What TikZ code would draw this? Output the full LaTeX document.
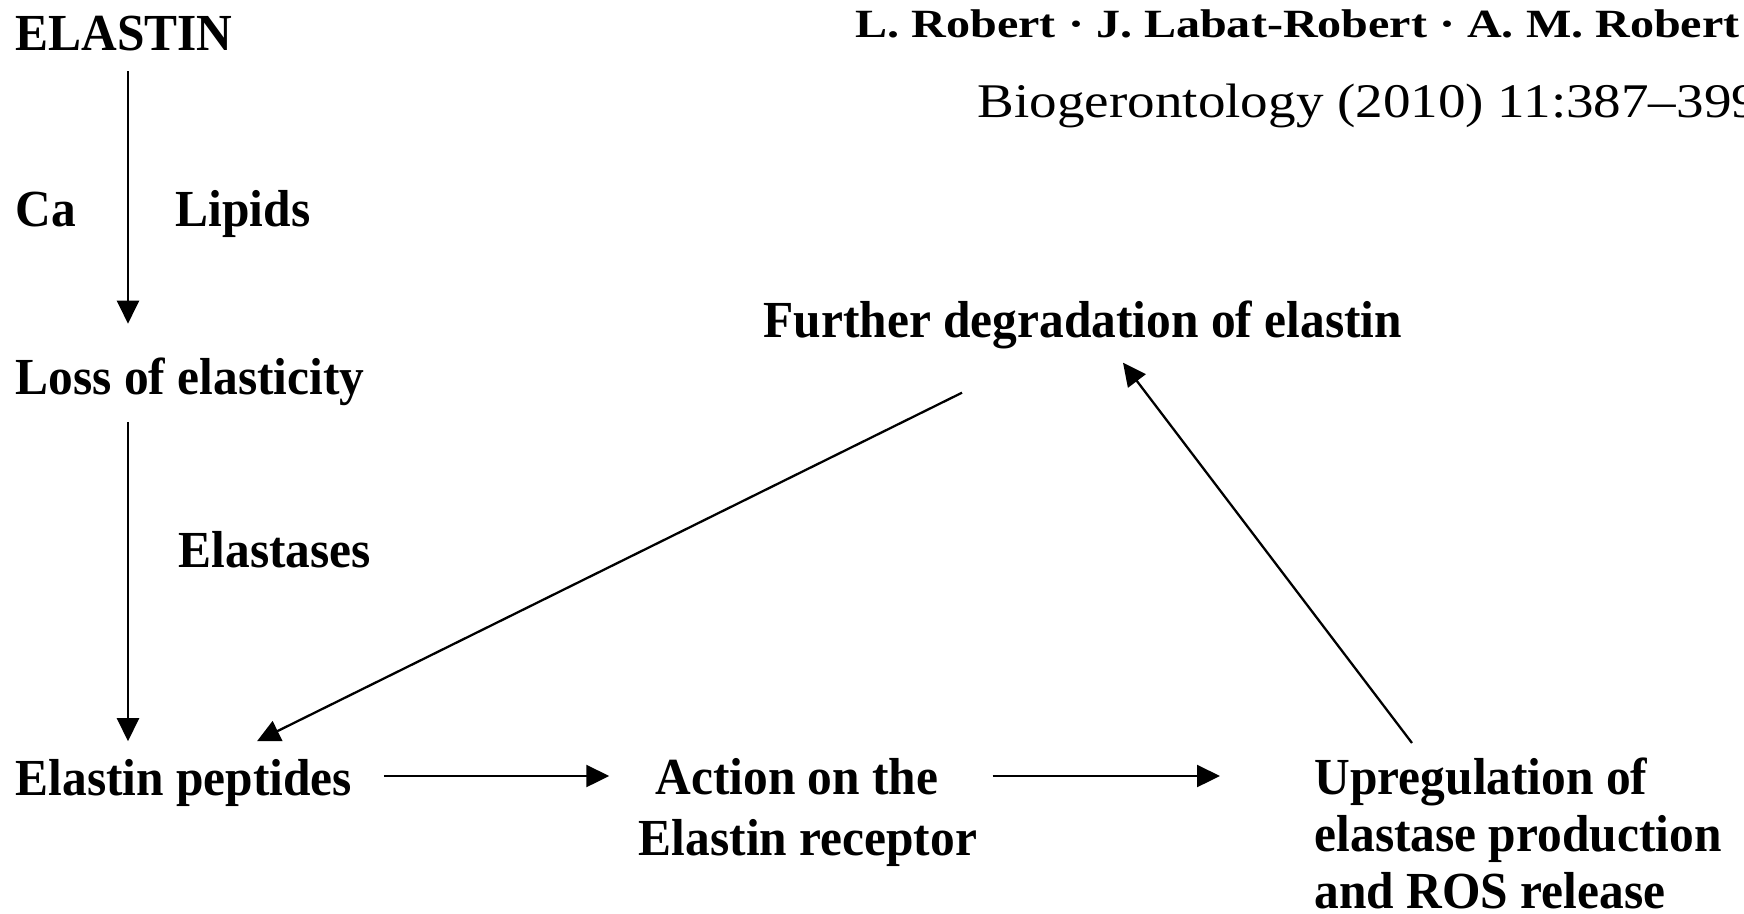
\documentclass[tikz,border=0pt]{standalone}
\usepackage{fontspec}
\setmainfont{Liberation Serif}
\newfontfamily\lblfont{Liberation Serif Bold}[FakeStretch=0.95]
\newfontfamily\authfont{Liberation Serif Bold}[FakeStretch=1.2]
\newfontfamily\jrnfont{Liberation Serif}[FakeStretch=1.14]
\usetikzlibrary{arrows.meta,calc}

\tikzset{
  lbl/.style={inner sep=0pt, font=\lblfont\fontsize{14.8}{17.4}\selectfont},
  arr/.style={-{Triangle[length=2.3mm,width=2.2mm]}, line width=0.65pt},
}

\begin{document}
\begin{tikzpicture}[x=0.1mm,y=-0.1mm]
  \useasboundingbox (0,0) rectangle (1744,913);
  \fill[white] (0,0) rectangle (1744,913);
  \clip (0,0) rectangle (1744,913);

  % running head
  \node[inner sep=0pt, anchor=base west, font=\authfont\fontsize{11.4}{13}\selectfont]
    (authors) at (855,37) {L. Robert · J. Labat-Robert · A. M. Robert};
  \node[inner sep=0pt, anchor=base west, font=\jrnfont\fontsize{13.75}{16}\selectfont]
    (journal) at (977,117) {Biogerontology (2010) 11:387–399};

  % left column
  \node[lbl, anchor=base west] (elastin)  at (15,50)  {ELASTIN};
  \node[lbl, anchor=base west] (ca)       at (15,226) {Ca};
  \node[lbl, anchor=base west] (lipids)   at (175,226) {Lipids};
  \node[lbl, anchor=base west] (loss)     at (15,394) {Loss of elasticity};
  \node[lbl, anchor=base west] (elastases) at (178,567) {Elastases};
  \node[lbl, anchor=base west] (peptides) at (15,795) {Elastin peptides};

  % feedback loop
  \node[lbl, anchor=base west] (further) at (763,337) {Further degradation of elastin};
  \node[lbl, anchor=north, align=center] (action) at (808,758)
    {Action on the\hspace*{2.2mm}\\Elastin receptor};
  \node[lbl, anchor=north west, align=left,
        font=\lblfont\fontsize{14.8}{16.3}\selectfont] (upreg) at (1314,757)
    {Upregulation of\\elastase production\\and ROS release};

  % guide lines for the connectors
  \coordinate (col) at (128,0);
  \coordinate (row) at (0,776);

  \draw[arr, shorten <=2mm, shorten >=3.3mm] (col |- elastin.south) -- (col |- loss.north);
  \draw[arr, shorten <=1.6mm, shorten >=1.7mm] (col |- loss.south) -- (col |- peptides.north);
  \draw[arr, shorten <=3.1mm, shorten >=2.9mm] (row -| peptides.east) -- (row -| action.west);
  \draw[arr, shorten <=1.5mm] (row -| action.east) -- ([xshift=-9.4mm]row -| upreg.west);
  \draw[arr] ([xshift=19.9mm,yshift=-4.35mm]further.south west)
          -- ([xshift=24.2mm,yshift=1.7mm]peptides.north west);
  \draw[arr] ([xshift=9.8mm,yshift=1.4mm]upreg.north west)
          -- ([xshift=36mm,yshift=-1.35mm]further.south west);
\end{tikzpicture}
\end{document}
